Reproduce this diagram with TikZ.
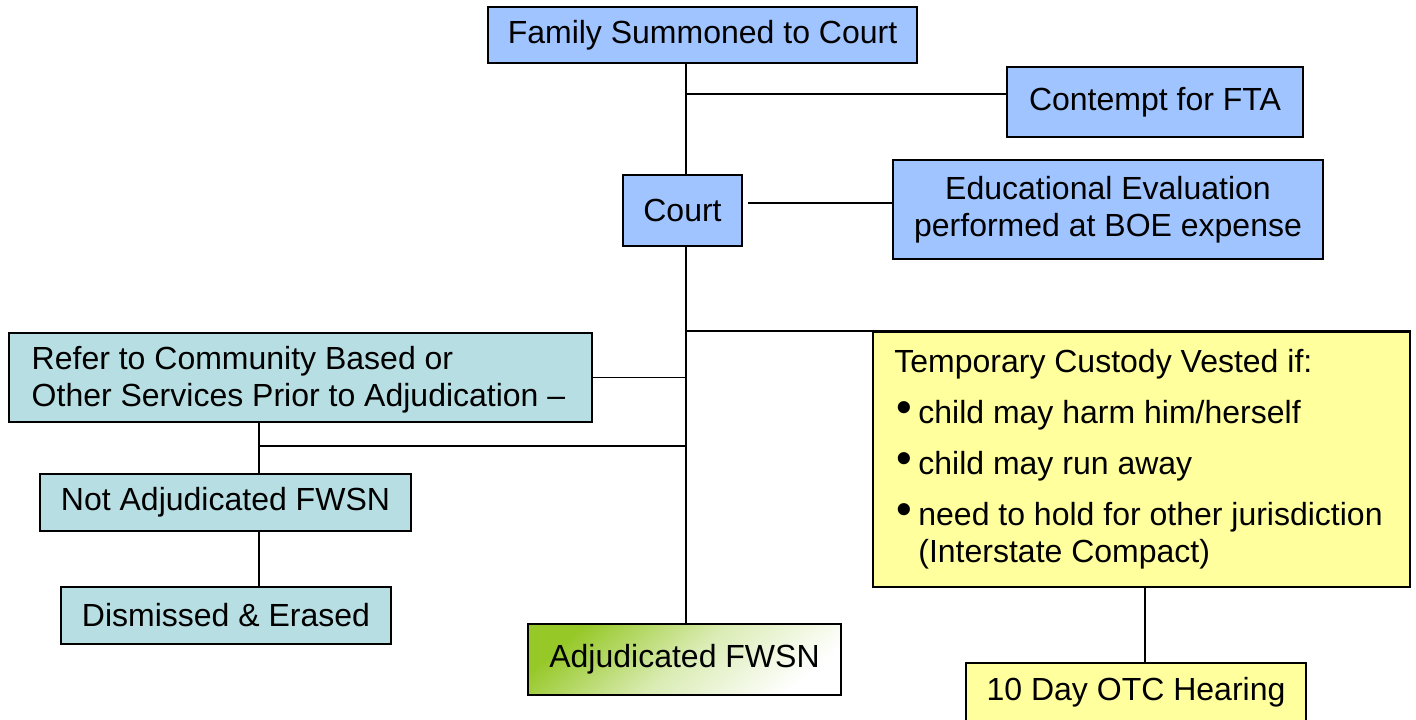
\documentclass[tikz,border=0pt]{standalone}
\usepackage{fontspec}
\usepackage{graphicx}
\setmainfont{Liberation Sans}
\usetikzlibrary{positioning}

\definecolor{courtblue}{RGB}{160,196,255}
\definecolor{referteal}{RGB}{183,222,226}
\definecolor{custyellow}{RGB}{255,255,158}
\definecolor{adjgreen}{RGB}{150,200,40}

\newcommand{\bul}{\hspace*{1pt}\makebox[11pt][l]{\raisebox{0.5pt}{\scalebox{1.4}{\textbullet}}}}

\begin{document}
\begin{tikzpicture}[x=0.5pt,y=-0.5pt,
    box/.style={draw, line width=1pt, inner sep=0pt, font=\fontsize{16}{18.5}\selectfont},
    bluebox/.style={box, fill=courtblue},
    tealbox/.style={box, fill=referteal},
    yellowbox/.style={box, fill=custyellow},
    link/.style={line width=0.75pt}]

    \useasboundingbox (0,0) rectangle (1416,719);

    % obere Kaesten
    \node[bluebox, minimum width=214.5pt, minimum height=28pt] (fam) at (702.5,35) {Family Summoned to Court};
    \node[bluebox, minimum width=148pt, minimum height=35pt] (fta) at (1155,102) {Contempt for FTA};
    \node[bluebox, minimum width=59.5pt, minimum height=35.5pt] (court) at (682.5,210.5) {Court};
    \node[bluebox, minimum width=215pt, minimum height=49.5pt, align=center] (eval) at (1108,209.5)
        {Educational Evaluation\\performed at BOE expense};

    % linke Seite
    \node[tealbox, minimum width=291.5pt, minimum height=44.5pt, align=left] (refer) at (300.5,377.5)
        {\rule{0pt}{14pt}Refer to Community Based or\\Other Services Prior to Adjudication --\hspace*{2pt}\mbox{}};
    \node[tealbox, minimum width=185.5pt, minimum height=28.5pt] (notadj) at (225.5,502.5) {Not Adjudicated FWSN};
    \node[tealbox, minimum width=165pt, minimum height=28.5pt] (dism) at (226,615.5) {Dismissed \& Erased};

    % Mitte unten
    \node[box, minimum width=156.5pt, minimum height=35.5pt,
          top color=adjgreen, bottom color=white, middle color=adjgreen!35!white, shading angle=40] (adj) at (684.5,659.5) {Adjudicated FWSN};

    % rechte Seite
    \node[yellowbox, minimum width=268.5pt, minimum height=127.5pt, align=left] (custody) at (1141.5,459.5)
        {Temporary Custody Vested if:\\[7pt]
         \bul child may harm him/herself\\[7pt]
         \bul child may run away\\[7pt]
         \bul need to hold for other jurisdiction\hspace*{3pt}\mbox{}\\
         \hspace*{12pt}(Interstate Compact)};
    \node[yellowbox, minimum width=170pt, minimum height=29pt] (otc) at (1136,692) {10 Day OTC Hearing};

    % Verbindungen
    \coordinate (t) at (686,0);
    \coordinate (ftaj) at (686,94);
    \coordinate (evalj) at (748,203);
    \coordinate (nj) at (259,446);
    \coordinate (oj) at (1145,0);

    \draw[link] (fam.south -| t) -- (court.north -| t);
    \draw[link] (ftaj) -- (ftaj -| fta.west);
    \draw[link] (evalj) -- (evalj -| eval.west);
    \draw[link] (court.south -| t) -- (adj.north -| t);
    \draw[link] (custody.north -| t) -- (custody.north east);
    \draw[link] (refer.east) -- (refer.east -| t);
    \draw[link] (nj -| t) -- (nj);
    \draw[link] (refer.south -| nj) -- (notadj.north -| nj);
    \draw[link] (notadj.south -| nj) -- (dism.north -| nj);
    \draw[link] (custody.south -| oj) -- (otc.north -| oj);

\end{tikzpicture}
\end{document}
